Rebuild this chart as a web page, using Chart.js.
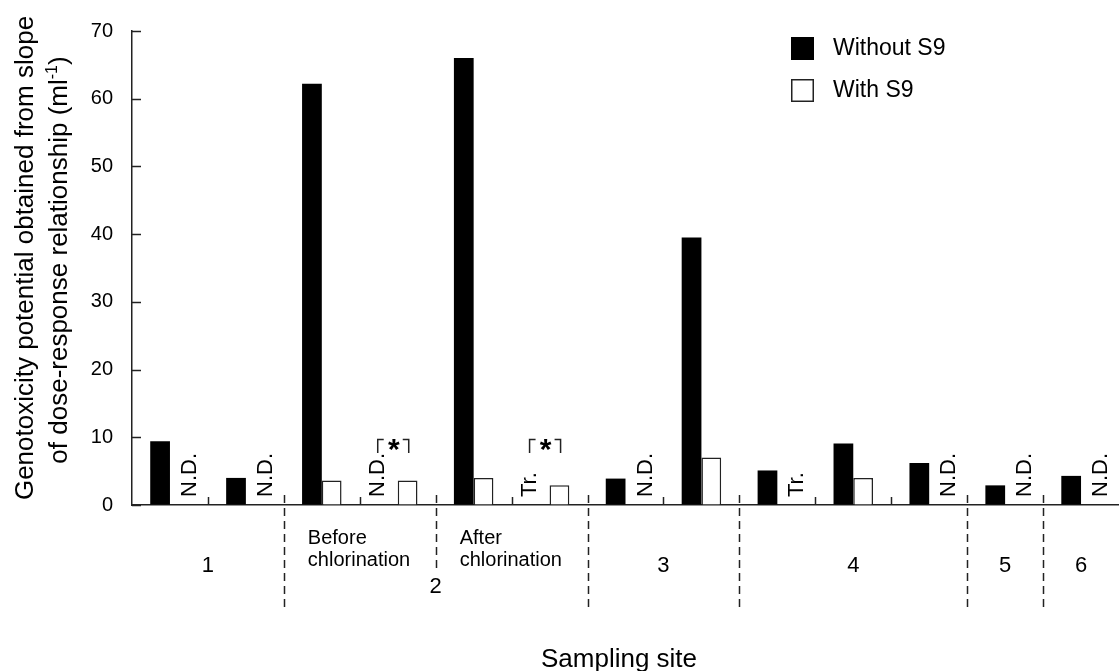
<!DOCTYPE html>
<html>
<head>
<meta charset="utf-8">
<script src="https://cdn.jsdelivr.net/npm/chart.js@4.4.1/dist/chart.umd.min.js"></script>
<style>
  body { margin: 0; background: #fff; }
</style>
</head>
<body>
<canvas id="chart" width="1119" height="671"></canvas>
<script>
// one entry per pair of bars, left to right
let sites = ['1a', '1b', '2 before a', '2 before b', '2 after a', '2 after b', '3a', '3b', '4a', '4b', '4c', '5', '6'];
let withoutS9 = [9.4, 4.0, 62.2, null, 66.0, null, 3.9, 39.5, 5.1, 9.1, 6.2, 2.9, 4.3];
let withS9 = [null, null, 3.6, 3.6, 4.0, 2.9, null, 7.0, null, 4.0, null, null, null];
let notesWithout = [null, null, null, 'N.D.', null, 'Tr.', null, null, null, null, null, null, null];
let notesWith = ['N.D.', 'N.D.', null, null, null, null, 'N.D.', null, 'Tr.', null, 'N.D.', 'N.D.', 'N.D.'];
let starred = [false, false, false, true, false, true, false, false, false, false, false, false, false];

let groupLabels = ['1', '2', '3', '4', '5', '6'];
let groupFirst = [0, 2, 6, 8, 11, 12];
let subLabels = [['Before', 'chlorination'], ['After', 'chlorination']];
let subFirst = [2, 4];
let yTicks = [0, 10, 20, 30, 40, 50, 60, 70];

const FONT = '"Liberation Sans", Arial, sans-serif';
const INK = '#222';

// left pixel edge of category i
function edge(xs, i) {
  let area = xs.chart.chartArea;
  if (i <= 0) return area.left;
  if (i >= sites.length) return area.right;
  return (xs.getPixelForValue(i - 1) + xs.getPixelForValue(i)) / 2;
}

function rotatedText(ctx, text, x, y, align) {
  ctx.save();
  ctx.translate(x, y);
  ctx.rotate(-Math.PI / 2);
  ctx.textAlign = align;
  ctx.fillText(text, 0, 0);
  ctx.restore();
}

let decorations = {
  id: 'decorations',
  afterDatasetsDraw(chart) {
    let ctx = chart.ctx;
    let xs = chart.scales.x, ys = chart.scales.y;
    let area = chart.chartArea;
    let base = ys.getPixelForValue(0);

    ctx.save();
    ctx.strokeStyle = INK;
    ctx.lineWidth = 1.5;

    // inward ticks on y axis
    yTicks.forEach(v => {
      let y = Math.round(ys.getPixelForValue(v)) + 0.5;
      ctx.beginPath();
      ctx.moveTo(area.left, y);
      ctx.lineTo(area.left + 9, y);
      ctx.stroke();
    });

    // category separators
    for (let i = 1; i < sites.length; i++) {
      let x = Math.round(edge(xs, i)) + 0.5;
      ctx.beginPath();
      if (groupFirst.includes(i)) {
        ctx.setLineDash([8, 5]);
        ctx.moveTo(x, base - 10);
        ctx.lineTo(x, base + 105);
      } else if (subFirst.includes(i)) {
        ctx.setLineDash([8, 5]);
        ctx.moveTo(x, base - 10);
        ctx.lineTo(x, base + 63);
      } else {
        ctx.setLineDash([]);
        ctx.moveTo(x, base - 8);
        ctx.lineTo(x, base);
      }
      ctx.stroke();
    }
    ctx.setLineDash([]);

    // N.D. / Tr. notes in place of missing bars
    ctx.fillStyle = '#000';
    ctx.font = '22px ' + FONT;
    ctx.textBaseline = 'middle';
    sites.forEach((s, i) => {
      let cx = xs.getPixelForValue(i);
      if (notesWithout[i]) rotatedText(ctx, notesWithout[i], cx - 20, base - 8, 'left');
      if (notesWith[i]) rotatedText(ctx, notesWith[i], cx + 20, base - 8, 'left');
    });

    // significance marks
    sites.forEach((s, i) => {
      if (!starred[i]) return;
      let cx = xs.getPixelForValue(i) - 4;
      ctx.beginPath();
      ctx.moveTo(cx - 16, 453);
      ctx.lineTo(cx - 16, 439.5);
      ctx.lineTo(cx - 10, 439.5);
      ctx.moveTo(cx + 9, 439.5);
      ctx.lineTo(cx + 15, 439.5);
      ctx.lineTo(cx + 15, 453);
      ctx.stroke();
      ctx.font = 'bold 30px ' + FONT;
      ctx.textAlign = 'center';
      ctx.textBaseline = 'alphabetic';
      ctx.fillText('*', cx, 459);
    });
    ctx.restore();
  },
  afterDraw(chart) {
    let ctx = chart.ctx;
    let xs = chart.scales.x;
    ctx.save();
    ctx.fillStyle = '#000';

    // site numbers
    ctx.font = '22px ' + FONT;
    ctx.textAlign = 'center';
    ctx.textBaseline = 'middle';
    groupLabels.forEach((g, k) => {
      let end = k + 1 < groupFirst.length ? groupFirst[k + 1] : sites.length;
      let cx = (edge(xs, groupFirst[k]) + edge(xs, end)) / 2;
      ctx.fillText(g, cx, g === '2' ? 587 : 566);
    });

    // before / after chlorination
    ctx.font = '20px ' + FONT;
    ctx.textAlign = 'left';
    subLabels.forEach((lines, k) => {
      let x = edge(xs, subFirst[k]) + 24;
      lines.forEach((t, j) => ctx.fillText(t, x, 538 + j * 22));
    });

    // axis titles
    ctx.font = '26px ' + FONT;
    ctx.textAlign = 'center';
    ctx.textBaseline = 'alphabetic';
    ctx.fillText('Sampling site', 619, 667);
    rotatedText(ctx, 'Genotoxicity potential obtained from slope', 33, 258, 'center');

    let main = 'of dose-response relationship (ml';
    let sup = '-1';
    ctx.font = '26px ' + FONT;
    let w1 = ctx.measureText(main).width;
    let w3 = ctx.measureText(')').width;
    ctx.font = '16px ' + FONT;
    let w2 = ctx.measureText(sup).width;
    let start = -(w1 + w2 + w3) / 2;
    ctx.translate(67, 260);
    ctx.rotate(-Math.PI / 2);
    ctx.textAlign = 'left';
    ctx.font = '26px ' + FONT;
    ctx.fillText(main, start, 0);
    ctx.fillText(')', start + w1 + w2, 0);
    ctx.font = '16px ' + FONT;
    ctx.fillText(sup, start + w1, -10);
    ctx.setTransform(1, 0, 0, 1, 0, 0);

    // legend
    ctx.font = '23px ' + FONT;
    ctx.textBaseline = 'middle';
    ctx.textAlign = 'left';
    ctx.fillRect(791, 37, 23, 23);
    ctx.fillText('Without S9', 833, 49);
    ctx.fillStyle = '#fff';
    ctx.fillRect(791, 79, 23, 23);
    ctx.strokeStyle = INK;
    ctx.lineWidth = 1.5;
    ctx.strokeRect(791.75, 79.75, 21.5, 21.5);
    ctx.fillStyle = '#000';
    ctx.fillText('With S9', 833, 91);
    ctx.restore();
  }
};

new Chart(document.getElementById('chart'), {
  type: 'bar',
  data: {
    labels: sites,
    datasets: [
      {
        label: 'Without S9',
        data: withoutS9,
        backgroundColor: '#000',
        borderColor: '#000',
        borderWidth: 0,
        categoryPercentage: 0.52,
        barPercentage: 1.0
      },
      {
        label: 'With S9',
        data: withS9,
        backgroundColor: '#fff',
        borderColor: INK,
        borderWidth: 1.5,
        categoryPercentage: 0.52,
        barPercentage: 1.0
      }
    ]
  },
  options: {
    responsive: false,
    animation: false,
    devicePixelRatio: 1,
    layout: { padding: { top: 28, right: -3, bottom: 166, left: 0 } },
    plugins: {
      legend: { display: false },
      tooltip: { enabled: false }
    },
    scales: {
      x: {
        ticks: { display: false },
        grid: { drawOnChartArea: false, drawTicks: false },
        border: { display: true, color: INK, width: 1.5 },
        afterFit: s => { s.height = 0; }
      },
      y: {
        min: 0,
        max: 70,
        ticks: {
          stepSize: 10,
          padding: 19,
          color: '#000',
          font: { family: FONT, size: 20 }
        },
        grid: { drawOnChartArea: false, drawTicks: false },
        border: { display: true, color: INK, width: 1.5 },
        afterFit: s => { s.width = 132; }
      }
    }
  },
  plugins: [decorations]
});
</script>
</body>
</html>
